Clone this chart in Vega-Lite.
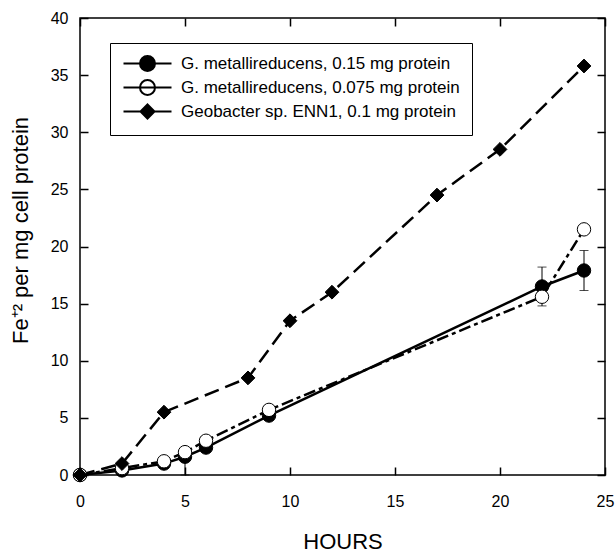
{
  "$schema": "https://vega.github.io/schema/vega-lite/v6.json",
  "width": 525,
  "height": 457,
  "autosize": "none",
  "padding": {"left": 80, "top": 18, "right": 11, "bottom": 77},
  "background": "white",
  "config": {
    "font": "Liberation Sans",
    "view": {"stroke": "black", "strokeWidth": 1.5},
    "axis": {
      "labelColor": "black", "titleColor": "black",
      "labelFontSize": 16, "titleFontSize": 22, "titleFontWeight": "normal",
      "labelFont": "Liberation Sans", "titleFont": "Liberation Sans",
      "labelFlush": false, "domain": false, "ticks": false, "tickSize": 0,
      "grid": true, "gridColor": "black", "gridWidth": 1.5, "gridOpacity": 1
    },
    "legend": {
      "orient": "none", "legendX": 30, "legendY": 25,
      "padding": 12, "rowPadding": 1,
      "strokeColor": "black", "fillColor": "white",
      "labelFont": "Liberation Sans", "labelFontSize": 17, "labelColor": "black", "labelLimit": 500,
      "symbolSize": 100, "symbolOffset": 17, "labelOffset": 25,
      "symbolStrokeWidth": 2.5, "symbolStrokeColor": "black", "symbolOpacity": 1
    }
  },
  "datasets": {
    "pts": [
      {"series": "G. metallireducens, 0.15 mg protein", "hour": 0, "value": 0},
      {"series": "G. metallireducens, 0.15 mg protein", "hour": 2, "value": 0.4},
      {"series": "G. metallireducens, 0.15 mg protein", "hour": 4, "value": 1.0},
      {"series": "G. metallireducens, 0.15 mg protein", "hour": 5, "value": 1.6},
      {"series": "G. metallireducens, 0.15 mg protein", "hour": 6, "value": 2.4},
      {"series": "G. metallireducens, 0.15 mg protein", "hour": 9, "value": 5.2},
      {"series": "G. metallireducens, 0.15 mg protein", "hour": 22, "value": 16.5},
      {"series": "G. metallireducens, 0.15 mg protein", "hour": 24, "value": 17.9},
      {"series": "G. metallireducens, 0.075 mg protein", "hour": 0, "value": 0},
      {"series": "G. metallireducens, 0.075 mg protein", "hour": 2, "value": 0.6},
      {"series": "G. metallireducens, 0.075 mg protein", "hour": 4, "value": 1.2},
      {"series": "G. metallireducens, 0.075 mg protein", "hour": 5, "value": 2.0},
      {"series": "G. metallireducens, 0.075 mg protein", "hour": 6, "value": 3.0},
      {"series": "G. metallireducens, 0.075 mg protein", "hour": 9, "value": 5.7},
      {"series": "G. metallireducens, 0.075 mg protein", "hour": 22, "value": 15.6},
      {"series": "G. metallireducens, 0.075 mg protein", "hour": 24, "value": 21.5},
      {"series": "Geobacter sp. ENN1, 0.1 mg protein", "hour": 0, "value": 0},
      {"series": "Geobacter sp. ENN1, 0.1 mg protein", "hour": 2, "value": 1.0},
      {"series": "Geobacter sp. ENN1, 0.1 mg protein", "hour": 4, "value": 5.5},
      {"series": "Geobacter sp. ENN1, 0.1 mg protein", "hour": 8, "value": 8.5},
      {"series": "Geobacter sp. ENN1, 0.1 mg protein", "hour": 10, "value": 13.5},
      {"series": "Geobacter sp. ENN1, 0.1 mg protein", "hour": 12, "value": 16.0},
      {"series": "Geobacter sp. ENN1, 0.1 mg protein", "hour": 17, "value": 24.5},
      {"series": "Geobacter sp. ENN1, 0.1 mg protein", "hour": 20, "value": 28.5},
      {"series": "Geobacter sp. ENN1, 0.1 mg protein", "hour": 24, "value": 35.8}
    ],
    "err": [
      {"series": "G. metallireducens, 0.15 mg protein", "hour": 5, "lo": 0.0, "hi": 1.6},
      {"series": "G. metallireducens, 0.15 mg protein", "hour": 22, "lo": 14.8, "hi": 18.2},
      {"series": "G. metallireducens, 0.15 mg protein", "hour": 24, "lo": 16.15, "hi": 19.65}
    ]
  },
  "layer": [
    {
      "data": {"name": "pts"},
      "transform": [{"filter": "datum.series == 'G. metallireducens, 0.15 mg protein'"}],
      "mark": {"type": "line", "color": "black", "strokeWidth": 2.5},
      "encoding": {
        "x": {"field": "hour", "type": "quantitative",
              "scale": {"domain": [0, 25], "nice": false},
              "axis": {"orient": "bottom", "values": [0, 5, 10, 15, 20, 25], "title": "HOURS",
                       "labelPadding": 18, "titlePadding": 22, "gridDash": [8, 441, 8, 100]}},
        "y": {"field": "value", "type": "quantitative",
              "scale": {"domain": [0, 40], "nice": false},
              "axis": {"orient": "left", "values": [0, 5, 10, 15, 20, 25, 30, 35, 40], "title": "Fe⁺² per mg cell protein",
                       "labelPadding": 12, "titlePadding": 18, "titleY": 212, "gridDash": [8, 509, 8, 100]}}
      }
    },
    {
      "data": {"name": "pts"},
      "transform": [{"filter": "datum.series == 'G. metallireducens, 0.075 mg protein'"}],
      "mark": {"type": "line", "color": "black", "strokeWidth": 2.5, "strokeDash": [12, 4, 4, 4]},
      "encoding": {
        "x": {"field": "hour", "type": "quantitative", "axis": null},
        "y": {"field": "value", "type": "quantitative", "axis": null}
      }
    },
    {
      "data": {"name": "pts"},
      "transform": [{"filter": "datum.series == 'Geobacter sp. ENN1, 0.1 mg protein'"}],
      "mark": {"type": "line", "color": "black", "strokeWidth": 2.5, "strokeDash": [15, 7]},
      "encoding": {
        "x": {"field": "hour", "type": "quantitative", "axis": null},
        "y": {"field": "value", "type": "quantitative", "axis": null}
      }
    },
    {
      "data": {"name": "err"},
      "mark": {"type": "errorbar", "ticks": {"size": 9}, "thickness": 1, "color": "black"},
      "encoding": {
        "x": {"field": "hour", "type": "quantitative", "axis": null},
        "y": {"field": "lo", "type": "quantitative", "axis": null},
        "y2": {"field": "hi"}
      }
    },
    {
      "data": {"name": "pts"},
      "transform": [{"filter": "datum.series == 'G. metallireducens, 0.15 mg protein'"}],
      "mark": {"type": "point", "shape": "circle", "opacity": 1, "fill": "black", "stroke": "black", "strokeWidth": 1, "size": 180},
      "encoding": {
        "x": {"field": "hour", "type": "quantitative", "axis": null},
        "y": {"field": "value", "type": "quantitative", "axis": null}
      }
    },
    {
      "data": {"name": "pts"},
      "transform": [{"filter": "datum.series == 'G. metallireducens, 0.075 mg protein'"}],
      "mark": {"type": "point", "shape": "circle", "opacity": 1, "fill": "white", "stroke": "black", "strokeWidth": 1, "size": 180},
      "encoding": {
        "x": {"field": "hour", "type": "quantitative", "axis": null},
        "y": {"field": "value", "type": "quantitative", "axis": null}
      }
    },
    {
      "data": {"name": "pts"},
      "transform": [{"filter": "datum.series == 'Geobacter sp. ENN1, 0.1 mg protein'"}],
      "mark": {"type": "point", "shape": "diamond", "opacity": 1, "fill": "black", "stroke": "black", "strokeWidth": 1, "size": 190},
      "encoding": {
        "x": {"field": "hour", "type": "quantitative", "axis": null},
        "y": {"field": "value", "type": "quantitative", "axis": null}
      }
    },
    {
      "data": {"name": "pts"},
      "mark": {"type": "point", "opacity": 0, "stroke": "black", "strokeWidth": 2.5},
      "encoding": {
        "x": {"field": "hour", "type": "quantitative", "axis": null},
        "y": {"field": "value", "type": "quantitative", "axis": null},
        "shape": {"field": "series", "type": "nominal",
              "scale": {"domain": ["G. metallireducens, 0.15 mg protein", "G. metallireducens, 0.075 mg protein", "Geobacter sp. ENN1, 0.1 mg protein"],
                        "range": [
                          "M-4.8,0H4.8M-1.5,0A1.5,1.5 0 1,0 1.5,0A1.5,1.5 0 1,0 -1.5,0Z",
                          "M-4.8,0H4.8M-1.5,0A1.5,1.5 0 1,0 1.5,0A1.5,1.5 0 1,0 -1.5,0Z",
                          "M-4.8,0H4.8M0,-1.4L1.4,0L0,1.4L-1.4,0Z"]},
              "legend": {"title": null,
                         "encode": {"symbols": {"update": {"stroke": {"value": "black"}, "strokeWidth": {"value": 2}, "opacity": {"value": 1}}}}}},
        "fill": {"field": "series", "type": "nominal",
              "scale": {"domain": ["G. metallireducens, 0.15 mg protein", "G. metallireducens, 0.075 mg protein", "Geobacter sp. ENN1, 0.1 mg protein"],
                        "range": ["black", "white", "black"]},
              "legend": {"title": null,
                         "encode": {"symbols": {"update": {"stroke": {"value": "black"}, "strokeWidth": {"value": 2}, "opacity": {"value": 1}}}}}}
      }
    }
  ],
  "resolve": {
    "axis": {"x": "independent", "y": "independent"}
  }
}
